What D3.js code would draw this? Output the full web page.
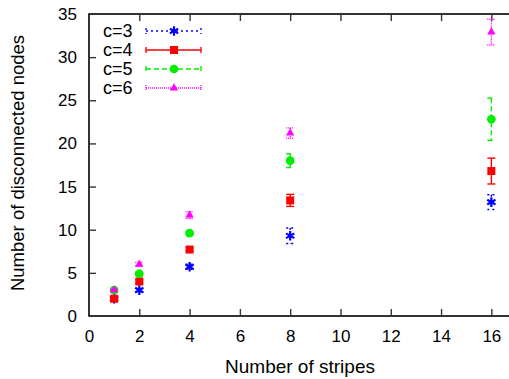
<!DOCTYPE html>
<html>
<head>
<meta charset="utf-8">
<script src="https://cdn.jsdelivr.net/npm/d3@7"></script>
<style>
  body { margin: 0; background: #fff; }
  text { font-family: "Liberation Sans", Arial, sans-serif; }
</style>
</head>
<body>
<div id="chart"></div>
<script>
// data
const stripes = [1, 2, 4, 8, 16];
const labels = ['c=3', 'c=4', 'c=5', 'c=6'];
const c3 = [2.0, 3.0, 5.7, 9.3, 13.2];
const c4 = [2.0, 4.0, 7.7, 13.4, 16.8];
const c5 = [3.0, 4.9, 9.6, 18.0, 22.8];
const c6 = [3.0, 6.0, 11.7, 21.2, 32.9];
const c3Err = [0.1, 0.2, 0.3, 0.9, 0.85];
const c4Err = [0.1, 0.2, 0.2, 0.7, 1.5];
const c5Err = [0.1, 0.2, 0.2, 0.8, 2.45];
const c6Err = [0.1, 0.2, 0.4, 0.6, 1.5];
const xTicks = [0, 2, 4, 6, 8, 10, 12, 14, 16];
const yTicks = [0, 5, 10, 15, 20, 25, 30, 35];

const series = [
  { name: labels[0], values: c3, err: c3Err, color: '#0000ff', dash: '2,3', symbol: d3.symbolAsterisk },
  { name: labels[1], values: c4, err: c4Err, color: '#ff0000', dash: null, symbol: d3.symbolSquare },
  { name: labels[2], values: c5, err: c5Err, color: '#00ee00', dash: '5,3', symbol: d3.symbolCircle },
  { name: labels[3], values: c6, err: c6Err, color: '#ff00ff', dash: '1,1', symbol: d3.symbolTriangle }
];

const W = 509, H = 379;
const svg = d3.select('#chart').append('svg')
  .attr('width', W).attr('height', H);

const x = d3.scaleLinear().domain([0, 17]).range([89, 516.5]);
const y = d3.scaleLinear().domain([0, 35]).range([316, 14]);

// frame
svg.append('rect')
  .attr('x', x(0)).attr('y', y(35))
  .attr('width', x(17) - x(0)).attr('height', y(0) - y(35))
  .attr('fill', 'none').attr('stroke', '#000').attr('stroke-width', 1.6);

// x axis (ticks inward, mirrored at top)
const xAxis = svg.append('g')
  .attr('transform', `translate(0,${y(0)})`)
  .call(d3.axisBottom(x).tickValues(xTicks).tickSize(-7).tickPadding(14));
const xTop = svg.append('g')
  .attr('transform', `translate(0,${y(35)})`)
  .call(d3.axisTop(x).tickValues(xTicks).tickSize(-7).tickFormat(''));
const yAxis = svg.append('g')
  .attr('transform', `translate(${x(0)},0)`)
  .call(d3.axisLeft(y).tickValues(yTicks).tickSize(-7).tickPadding(12));

[xAxis, xTop, yAxis].forEach(g => {
  g.select('.domain').remove();
  g.selectAll('.tick line').attr('stroke', '#333').attr('stroke-width', 1.4);
  g.selectAll('.tick text').attr('font-size', 17).attr('fill', '#000')
    .attr('font-family', '"Liberation Sans", Arial, sans-serif');
});
// hide 0 tick lines that sit on the frame
xAxis.selectAll('.tick').filter(d => d === 0).select('line').remove();
xTop.selectAll('.tick').filter(d => d === 0).select('line').remove();
yAxis.selectAll('.tick').filter(d => d === 0 || d === 35).select('line').remove();

// axis titles
svg.append('text')
  .attr('x', 300).attr('y', 373)
  .attr('text-anchor', 'middle').attr('font-size', 19)
  .text('Number of stripes');
svg.append('text')
  .attr('transform', 'translate(24,163) rotate(-90)')
  .attr('text-anchor', 'middle').attr('font-size', 18.5)
  .text('Number of disconnected nodes');

const capW = 4;
function drawErr(g, cx, y0, y1, s) {
  const attrs = sel => sel.attr('stroke', s.color).attr('stroke-width', 1.4)
    .attr('stroke-dasharray', s.dash);
  g.append('line').attr('x1', cx).attr('x2', cx).attr('y1', y0).attr('y2', y1).call(attrs);
  g.append('line').attr('x1', cx - capW).attr('x2', cx + capW).attr('y1', y0).attr('y2', y0).call(attrs);
  g.append('line').attr('x1', cx - capW).attr('x2', cx + capW).attr('y1', y1).attr('y2', y1).call(attrs);
}

function symbolPath(s) {
  const size = s.symbol === d3.symbolCircle ? 60 : s.symbol === d3.symbolTriangle ? 30 : 64;
  return d3.symbol().type(s.symbol).size(size)();
}

// points with error bars
series.forEach(s => {
  const g = svg.append('g');
  s.values.forEach((v, i) => {
    const cx = x(stripes[i]);
    drawErr(g, cx, y(v + s.err[i]), y(v - s.err[i]), s);
    const p = g.append('path')
      .attr('d', symbolPath(s))
      .attr('transform', `translate(${cx},${y(v)})`);
    if (s.symbol === d3.symbolAsterisk) {
      p.attr('fill', 'none').attr('stroke', s.color).attr('stroke-width', 2.2);
    } else {
      p.attr('fill', s.color);
    }
  });
});

// legend
const leg = svg.append('g');
series.forEach((s, i) => {
  const ly = 31 + i * 19;
  leg.append('text')
    .attr('x', 103).attr('y', ly + 6)
    .attr('font-size', 18)
    .text(s.name);
  const g = leg.append('g');
  const attrs = sel => sel.attr('stroke', s.color).attr('stroke-width', 1.4)
    .attr('stroke-dasharray', s.dash);
  g.append('line').attr('x1', 146).attr('x2', 201).attr('y1', ly).attr('y2', ly).call(attrs);
  g.append('line').attr('x1', 146).attr('x2', 146).attr('y1', ly - 3).attr('y2', ly + 3).call(attrs);
  g.append('line').attr('x1', 201).attr('x2', 201).attr('y1', ly - 3).attr('y2', ly + 3).call(attrs);
  const p = g.append('path').attr('d', symbolPath(s))
    .attr('transform', `translate(174,${ly})`);
  if (s.symbol === d3.symbolAsterisk) {
    p.attr('fill', 'none').attr('stroke', s.color).attr('stroke-width', 2.2);
  } else {
    p.attr('fill', s.color);
  }
});
</script>
</body>
</html>
